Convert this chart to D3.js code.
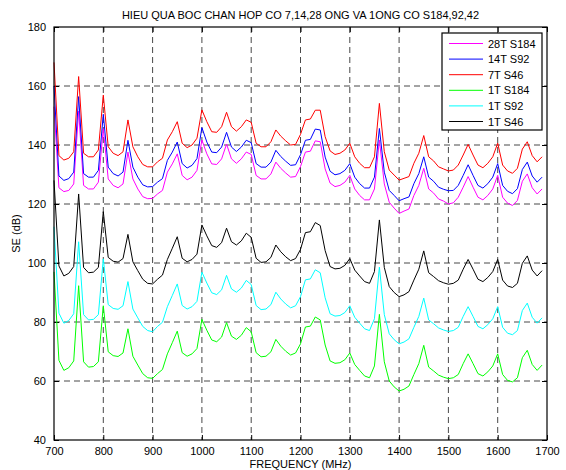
<!DOCTYPE html>
<html lang="en">
<head>
    <meta charset="UTF-8">
    <title>HIEU QUA BOC CHAN</title>
    <script src="https://d3js.org/d3.v7.min.js"></script>
    <style>
        body { margin: 0; background: #fff; }
        text { font-family: Arial, "Liberation Sans", Helvetica, sans-serif; }
    </style>
</head>
<body>
    <div id="chart"></div>

    <script>
        // Frequency points (MHz)
        const freq = [700,710,720,730,740,750,760,770,780,790,800,810,820,830,840,850,860,870,880,890,
                      900,910,920,930,940,950,960,970,980,990,1000,1010,1020,1030,1040,1050,1060,1070,1080,1090,
                      1100,1110,1120,1130,1140,1150,1160,1170,1180,1190,1200,1210,1220,1230,1240,1250,1260,1270,1280,1290,
                      1300,1310,1320,1330,1340,1350,1360,1370,1380,1390,1400,1410,1420,1430,1440,1450,1460,1470,1480,1490,
                      1500,1510,1520,1530,1540,1550,1560,1570,1580,1590,1600,1610,1620,1630,1640,1650,1660,1670,1680,1690];

        // SE (dB) for each case
        const se28T_S184 = [153.0,125.5,124.2,124.6,126.8,151.5,126.3,125.1,125.1,127.4,145.5,128.5,126.3,125.5,126.8,137.6,128.5,125.1,122.5,121.8,
                            121.9,123.4,124.6,130.8,133.6,137.0,129.7,128.2,129.1,131.4,141.7,137.0,133.6,133.4,135.3,140.3,135.3,133.8,135.3,137.6,
                            136.8,129.7,128.5,128.5,130.2,134.2,132.1,130.5,129.1,129.3,132.7,137.6,137.9,141.4,141.1,131.9,127.1,125.9,126.3,127.4,
                            129.7,125.1,122.9,121.4,121.4,125.1,141.7,126.8,120.6,118.6,116.8,117.6,118.3,122.9,126.3,132.1,125.1,123.7,121.7,121.0,
                            120.0,120.4,122.3,125.7,129.3,125.7,122.3,121.4,122.9,125.1,129.7,122.3,120.3,119.5,121.2,127.7,130.2,125.5,123.4,125.1];
        const se14T_S92 = [160.0,129.5,128.0,128.6,130.8,156.4,130.3,129.1,129.1,131.4,150.4,132.5,130.3,129.5,130.8,141.6,132.5,129.1,126.5,125.8,
                           125.9,127.4,128.6,134.8,137.6,141.0,133.7,132.2,133.1,135.4,145.9,141.0,137.6,137.4,139.3,144.3,139.3,137.8,139.3,141.6,
                           140.8,133.7,132.5,132.5,134.2,138.2,136.1,134.5,133.1,133.3,136.7,141.6,141.9,145.4,145.1,135.9,131.1,129.9,130.3,131.4,
                           133.7,129.1,126.9,125.4,125.4,129.1,145.6,130.8,124.6,122.9,121.1,121.8,122.4,126.9,130.3,136.0,129.1,127.7,125.7,125.0,
                           124.5,124.6,126.3,129.7,133.3,129.7,126.3,125.4,126.9,129.1,133.7,126.3,124.3,123.5,125.2,131.7,134.2,129.5,127.4,129.1];
        const se7T_S46 = [168.0,136.4,134.9,135.5,137.7,163.2,137.2,136.0,136.0,138.3,156.9,139.4,137.2,136.4,137.7,148.5,139.4,136.0,133.4,132.6,
                          132.6,134.3,135.5,141.7,144.5,147.9,140.6,139.1,140.0,142.3,151.9,147.9,144.5,144.3,146.2,151.1,146.2,144.7,146.2,148.5,
                          147.7,140.6,139.4,139.4,141.1,145.1,143.0,141.4,140.0,140.2,143.6,148.5,148.8,151.8,151.8,142.8,138.0,136.8,137.2,138.3,
                          140.6,136.0,133.8,132.3,132.3,136.0,154.1,137.7,131.5,129.8,128.1,128.7,129.3,133.8,137.2,143.2,136.0,134.6,132.6,131.9,
                          131.2,131.5,133.2,136.6,140.2,136.6,133.2,132.3,133.8,136.0,140.6,133.2,131.2,130.4,132.1,138.6,141.1,136.4,134.3,136.0];
        const se1T_S184 = [97.0,67.0,63.6,64.5,66.8,92.3,66.5,64.7,64.9,66.5,85.5,69.9,68.6,68.3,69.5,77.7,68.4,65.4,62.5,61.1,
                           60.9,62.5,63.9,69.2,73.0,76.9,69.6,68.4,69.2,71.0,80.9,77.2,73.9,73.3,74.9,79.8,75.2,74.1,75.5,78.1,
                           76.7,69.6,68.2,68.4,69.9,74.1,71.8,70.1,68.8,69.5,72.6,78.3,78.6,81.7,80.7,72.2,66.8,66.0,66.2,67.2,
                           69.5,65.6,63.6,61.7,61.1,65.1,82.6,66.5,60.0,58.0,56.6,57.2,58.3,62.2,65.9,72.1,64.7,63.4,62.0,61.3,
                           60.8,61.1,62.2,65.9,69.2,65.9,62.5,61.7,63.1,65.1,69.2,62.2,60.2,59.7,61.1,67.9,70.4,65.6,63.6,65.4];
        const se1T_S92 = [112.3,83.0,79.6,80.5,82.8,107.2,82.5,80.7,80.9,82.5,101.4,85.9,84.6,84.3,85.5,93.7,84.4,81.4,78.5,77.1,
                          76.7,78.5,79.9,85.2,89.0,92.9,85.6,84.4,85.2,87.0,96.9,93.2,89.9,89.3,90.9,95.8,91.2,90.1,91.5,94.1,
                          92.7,85.6,84.2,84.4,85.9,90.1,87.8,86.1,84.8,85.5,88.6,94.3,94.6,97.7,96.7,88.2,82.8,82.0,82.2,83.2,
                          85.5,81.6,79.6,77.7,77.1,81.1,98.6,82.5,76.0,74.0,72.6,73.2,74.3,78.2,81.9,88.1,80.7,79.4,78.0,77.3,
                          76.8,77.1,78.2,81.9,85.2,81.9,78.5,77.7,79.1,81.1,85.2,78.2,76.2,75.7,77.1,83.9,86.4,81.6,79.6,81.4];
        const se1T_S46 = [128.0,99.0,95.6,96.5,98.8,123.4,98.5,96.7,96.9,98.5,117.4,101.9,100.6,100.3,101.5,109.7,100.4,97.4,94.5,93.1,
                          92.9,94.5,95.9,101.2,105.0,108.9,101.6,100.4,101.2,103.0,112.9,109.2,105.9,105.3,106.9,111.8,107.2,106.1,107.5,110.1,
                          108.7,101.6,100.2,100.4,101.9,106.1,103.8,102.1,100.8,101.5,104.6,110.3,110.6,113.7,112.7,104.2,98.8,98.0,98.2,99.2,
                          101.5,97.6,95.6,93.7,93.1,97.1,114.6,98.5,92.0,90.0,88.6,89.2,90.3,94.2,97.9,104.1,96.7,95.4,94.0,93.3,
                          92.8,93.1,94.2,97.9,101.2,97.9,94.5,93.7,95.1,97.1,101.2,94.2,92.2,91.7,93.1,99.9,102.4,97.6,95.6,97.4];

        const names = ["28T S184", "14T S92", "7T S46", "1T S184", "1T S92", "1T S46"];
        const colors = ["#ff00ff", "#0000ff", "#ff0000", "#00ff00", "#00ffff", "#000000"];
        const seriesValues = [se28T_S184, se14T_S92, se7T_S46, se1T_S184, se1T_S92, se1T_S46];

        const xTicks = [700, 800, 900, 1000, 1100, 1200, 1300, 1400, 1500, 1600, 1700];
        const yTicks = [40, 60, 80, 100, 120, 140, 160, 180];

        const W = 566, H = 470;
        const margin = {top: 27, right: 19, bottom: 30, left: 54};
        const width = W - margin.left - margin.right,
              height = H - margin.top - margin.bottom;

        const svg = d3.select("#chart")
            .append("svg")
            .attr("width", W)
            .attr("height", H);

        const g = svg.append("g")
            .attr("transform", `translate(${margin.left},${margin.top})`);

        const x = d3.scaleLinear().domain([700, 1700]).range([0, width]);
        const y = d3.scaleLinear().domain([40, 180]).range([height, 0]);

        // grid lines (dashed)
        g.append("g").selectAll("line")
            .data(xTicks.slice(1, -1))
            .join("line")
            .attr("x1", d => x(d)).attr("x2", d => x(d))
            .attr("y1", 0).attr("y2", height)
            .attr("stroke", "#333")
            .attr("stroke-width", 0.9)
            .attr("stroke-dasharray", "6,4");

        g.append("g").selectAll("line")
            .data(yTicks.slice(1, -1))
            .join("line")
            .attr("x1", 0).attr("x2", width)
            .attr("y1", d => y(d)).attr("y2", d => y(d))
            .attr("stroke", "#333")
            .attr("stroke-width", 0.9)
            .attr("stroke-dasharray", "6,4");

        // axes (ticks inside, like matlab)
        g.append("g")
            .attr("transform", `translate(0,${height})`)
            .call(d3.axisBottom(x).tickValues(xTicks).tickFormat(d3.format("d"))
                .tickSizeInner(-5).tickSizeOuter(0).tickPadding(7));
        g.append("g")
            .call(d3.axisLeft(y).tickValues(yTicks).tickFormat(d3.format("d"))
                .tickSizeInner(-5).tickSizeOuter(0).tickPadding(8));
        g.append("g")
            .call(d3.axisTop(x).tickValues(xTicks).tickSizeInner(-5).tickSizeOuter(0).tickFormat(""));
        g.append("g")
            .attr("transform", `translate(${width},0)`)
            .call(d3.axisRight(y).tickValues(yTicks).tickSizeInner(-5).tickSizeOuter(0).tickFormat(""));

        svg.selectAll(".domain").remove();
        svg.selectAll(".tick line").attr("stroke", "#000");
        svg.selectAll(".tick text")
            .attr("fill", "#000")
            .style("font-size", "11px");

        // data lines
        const line = d3.line()
            .x((d, i) => x(freq[i]))
            .y(d => y(d));

        seriesValues.forEach((vals, k) => {
            g.append("path")
                .datum(vals)
                .attr("fill", "none")
                .attr("stroke", colors[k])
                .attr("stroke-width", 1)
                .attr("d", line);
        });

        // box
        g.append("rect")
            .attr("width", width)
            .attr("height", height)
            .attr("fill", "none")
            .attr("stroke", "#000")
            .attr("stroke-width", 1.2);

        // title and labels
        svg.append("text")
            .attr("x", margin.left + width / 2)
            .attr("y", 19)
            .attr("text-anchor", "middle")
            .style("font-size", "11px")
            .text("HIEU QUA BOC CHAN HOP CO 7,14,28 ONG VA 1ONG CO S184,92,42");

        svg.append("text")
            .attr("x", margin.left + width / 2)
            .attr("y", 468)
            .attr("text-anchor", "middle")
            .style("font-size", "11px")
            .text("FREQUENCY (MHz)");

        svg.append("text")
            .attr("transform", `translate(20,${margin.top + height / 2}) rotate(-90)`)
            .attr("text-anchor", "middle")
            .style("font-size", "11px")
            .text("SE (dB)");

        // legend
        const leg = svg.append("g").attr("transform", "translate(442,33)");
        leg.append("rect")
            .attr("width", 100)
            .attr("height", 97)
            .attr("fill", "#fff")
            .attr("stroke", "#000")
            .attr("stroke-width", 1.2);

        names.forEach((name, k) => {
            const ly = 10.5 + k * 15.6;
            leg.append("line")
                .attr("x1", 7).attr("x2", 41)
                .attr("y1", ly).attr("y2", ly)
                .attr("stroke", colors[k])
                .attr("stroke-width", 1);
            leg.append("text")
                .attr("x", 46)
                .attr("y", ly + 4)
                .style("font-size", "11px")
                .text(name);
        });
    </script>
</body>
</html>
